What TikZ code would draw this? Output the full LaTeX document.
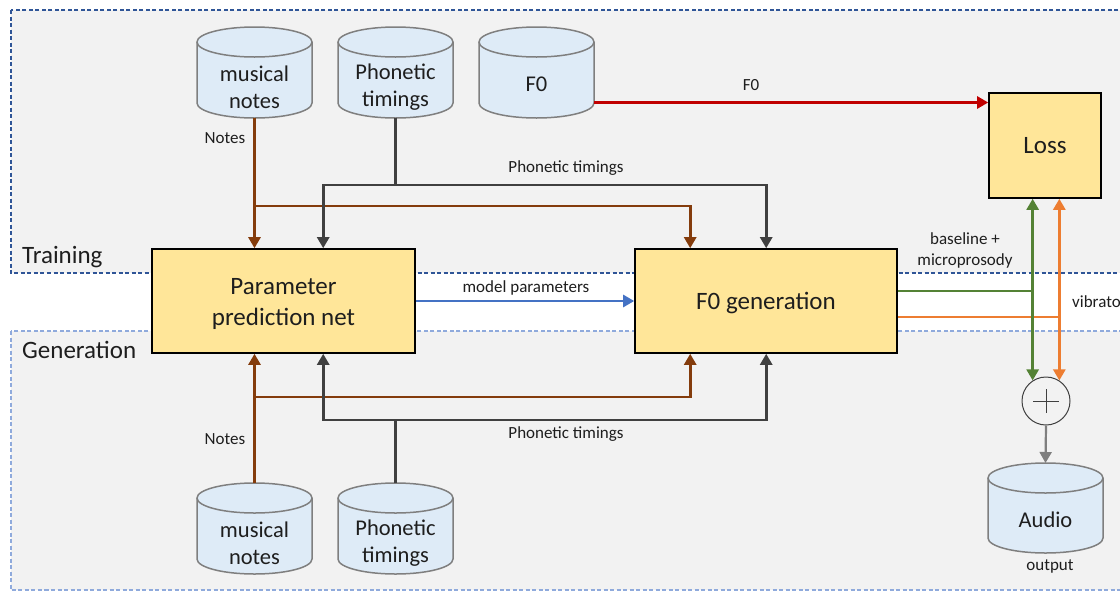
\documentclass[tikz,border=0pt]{standalone}
\usepackage{fontspec}
\setmainfont{Carlito}
\usetikzlibrary{arrows.meta,calc}

\definecolor{panel}{HTML}{F2F2F2}
\definecolor{trainline}{HTML}{2F5597}
\definecolor{genline}{HTML}{8FAADC}
\definecolor{boxfill}{HTML}{FFE699}
\definecolor{cylfill}{HTML}{DEEBF7}
\definecolor{cylline}{HTML}{7F7F7F}
\definecolor{txt}{HTML}{1E1E1E}
\definecolor{brownc}{HTML}{843C0C}
\definecolor{darkc}{HTML}{404040}
\definecolor{redc}{HTML}{C00000}
\definecolor{bluec}{HTML}{4472C4}
\definecolor{greenc}{HTML}{548235}
\definecolor{orangec}{HTML}{ED7D31}
\definecolor{grayc}{HTML}{7F7F7F}

% database cylinder: name, x1, y1, x2, y2, text offset, text
\newcommand\dbcyl[7]{%
  \pgfmathsetmacro\cylcx{(#2+#4)/2}%
  \pgfmathsetmacro\cylrx{(#4-#2)/2}%
  \pgfmathsetmacro\cylcy{(#3+#5)/2}%
  \pgfmathsetmacro\cylty{(#3+30+#5)/2-3+#6}%
  \pgfmathsetmacro\cylw{#4-#2}%
  \pgfmathsetmacro\cylh{#5-#3}%
  \filldraw[cylshape] (#2,#3+15) -- (#2,#5-15)
    arc[start angle=180,end angle=0,x radius=\cylrx,y radius=15]
    -- (#4,#3+15)
    arc[start angle=0,end angle=-180,x radius=\cylrx,y radius=15] -- cycle;
  \draw[cylshape] (#2,#3+15) arc[start angle=180,end angle=0,x radius=\cylrx,y radius=15];
  \node[inner sep=0, outer sep=0, minimum width=\cylw pt, minimum height=\cylh pt] (#1) at (\cylcx,\cylcy) {};
  \node[cyltext] (#1-t) at (\cylcx,\cylty) {#7};
}

\begin{document}
\begin{tikzpicture}[x=1pt,y=-1pt,
  region/.style={fill=panel, line width=1.1pt, dash pattern=on 4pt off 2.5pt},
  procbox/.style={draw=black, line width=1.6pt, fill=boxfill, inner sep=0},
  boxtext/.style={inner sep=0, text=txt, font=\fontsize{25}{31}\selectfont, align=center},
  cylshape/.style={draw=cylline, fill=cylfill, line width=1.5pt},
  cyltext/.style={inner sep=0, text=txt, align=center, font=\fontsize{22.5}{27}\selectfont},
  lbl/.style={inner sep=0, text=txt, align=center, font=\fontsize{17}{21}\selectfont},
  flow/.style={line width=2.6pt, -{Triangle[length=11pt,width=12pt]}},
  plain/.style={line width=2.6pt}]

\useasboundingbox (0,0) rectangle (1120,592);
\clip (0,0) rectangle (1120,592);
\fill[white] (0,0) rectangle (1120,592);

% training and generation panels
\draw[region, draw=trainline] (11,10) rectangle (1140,273);
\draw[region, draw=genline] (11,331) rectangle (1140,590);
\node[anchor=base west, inner sep=0, text=txt, font=\fontsize{25}{30}\selectfont] (trainlbl) at (22,263) {Training};
\node[anchor=base west, inner sep=0, text=txt, font=\fontsize{25}{30}\selectfont] (genlbl) at (22,358) {Generation};

% data stores
\dbcyl{notesT}{197}{27}{312}{118}{3}{musical\\notes}
\dbcyl{phonT}{338}{27}{453}{118}{3}{Phonetic\\timings}
\dbcyl{fzero}{479}{27}{594}{118}{0}{F0}
\dbcyl{notesB}{197}{483}{312}{574}{3}{musical\\notes}
\dbcyl{phonB}{338}{483}{453}{574}{3}{Phonetic\\timings}
\dbcyl{audio}{988}{463}{1103}{553}{0}{Audio}

% processing blocks
\node[procbox, minimum width=263pt, minimum height=104pt] (param) at (283.5,301) {};
\node[boxtext] (param-t) at ($(param.center)+(0,3)$) {Parameter\\prediction net};
\node[procbox, minimum width=262pt, minimum height=104pt] (f0gen) at (766,301) {};
\node[boxtext] (f0gen-t) at ($(f0gen.center)+(0,2)$) {F0 generation};
\node[procbox, minimum width=112pt, minimum height=105pt] (loss) at (1045,145.5) {};
\node[boxtext] (loss-t) at (loss.center) {Loss};
\node[circle, draw=darkc, fill=panel, line width=1pt, minimum size=48pt, inner sep=0] (plus) at (1046,401) {};
\draw[darkc, line width=1pt] ($(plus.center)+(-13,0)$) -- ($(plus.center)+(13,0)$);
\draw[darkc, line width=1pt] ($(plus.center)+(0,-12)$) -- ($(plus.center)+(0,12)$);

% attachment points
\coordinate (pN2) at ($(param.north west)+(172,0)$);
\coordinate (pS2) at ($(param.south west)+(172,0)$);
\coordinate (gN1) at ($(f0gen.north west)+(56,0)$);
\coordinate (gN2) at ($(f0gen.north west)+(132,0)$);
\coordinate (gS1) at ($(f0gen.south west)+(56,0)$);
\coordinate (gS2) at ($(f0gen.south west)+(132,0)$);
\coordinate (nTj) at ($(notesT.south)+(0,88)$);
\coordinate (pTj) at ($(phonT.south)+(0,67)$);
\coordinate (nBj) at ($(notesB.north)+(0,-86)$);
\coordinate (pBj) at ($(phonB.north)+(0,-63)$);

% training inputs
\draw[flow, brownc] (notesT.south) -- (notesT.south |- param.north);
\draw[flow, brownc] (nTj) -| (gN1);
\draw[flow, darkc] (phonT.south) -- (pTj) -| (pN2);
\draw[flow, darkc] (pTj) -| (gN2);

% generation inputs
\draw[flow, brownc] (notesB.north) -- (notesB.north |- param.south);
\draw[flow, brownc] (nBj) -| (gS1);
\draw[flow, darkc] (phonB.north) -- (pBj) -| (pS2);
\draw[flow, darkc] (pBj) -| (gS2);

% F0 target
\coordinate (fzR) at ($(fzero.east)+(0,30)$);
\draw[flow, redc] (fzR) -- (fzR -| loss.west);

% model parameters
\draw[flow, bluec] (param.east) -- (f0gen.west);

% vibrato branch
\coordinate (oE1) at ($(f0gen.east)+(0,16)$);
\coordinate (oj) at (oE1 -| plus.57);
\draw[plain, orangec] (oE1) -- (oj);
\draw[flow, orangec] (oj) -- (oj |- loss.south);
\draw[flow, orangec] (oj) -- (plus.57);

% baseline + microprosody branch
\coordinate (gE1) at ($(f0gen.east)+(0,-10)$);
\coordinate (gj) at (gE1 -| plus.123);
\draw[plain, greenc] (gE1) -- (gj);
\draw[flow, greenc] (gj) -- (gj |- loss.south);
\draw[flow, greenc] (gj) -- (plus.123);

% output
\draw[line width=2.2pt, grayc, -{Triangle[length=11pt,width=12pt]}] (plus.south) -- (audio.north);

% connector labels
\node[lbl] (lF0) at (751,85) {F0};
\node[lbl] (lPT) at (566,168) {Phonetic timings};
\node[lbl] (lNT) at (225,138) {Notes};
\node[lbl] (lMP) at (526,288) {model parameters};
\node[lbl] (lBM) at (965,250) {baseline +\\microprosody};
\node[lbl, anchor=west] (lVib) at (1072,302) {vibrato};
\node[lbl] (lNB) at (225,439) {Notes};
\node[lbl] (lPB) at (566,434) {Phonetic timings};
\node[lbl] (lOut) at (1050,566) {output};
\end{tikzpicture}
\end{document}
